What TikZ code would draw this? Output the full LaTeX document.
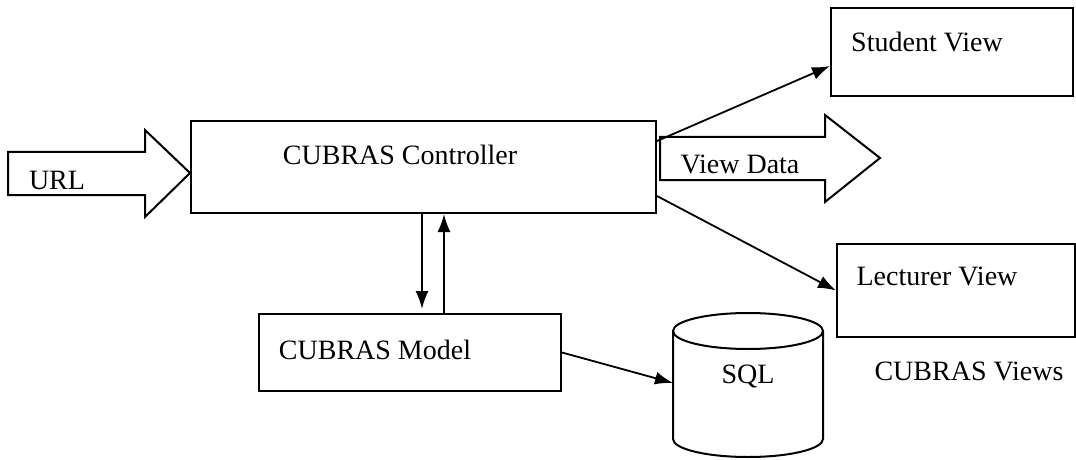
\documentclass[tikz,border=0pt]{standalone}
\usepackage{fontspec}
\setmainfont{Liberation Serif}
\usetikzlibrary{positioning,arrows.meta}

\tikzset{
    box/.style={draw, line width=1pt, rectangle, anchor=north west, inner sep=0pt},
    lbl/.style={font=\fontsize{14}{16}\selectfont, inner sep=1pt},
    link/.style={-{Latex[length=9pt,width=6.5pt]}, line width=0.9pt},
    fatarrow/.style={draw, line width=1pt, line join=miter}
}

\begin{document}
\begin{tikzpicture}[x=0.5pt, y=-0.5pt]
    \useasboundingbox (0,0) rectangle (1076,460);
    % boxes, sizes in pt (one pixel of the page is half a point)
    \node[box, minimum width=232.5pt, minimum height=46pt] (ctrl) at (190,120) {};
    \node[box, minimum width=121pt, minimum height=44pt] (student) at (830,7) {};
    \node[box, minimum width=119pt, minimum height=46.5pt] (lecturer) at (836,243) {};
    \node[box, minimum width=151pt, minimum height=38.5pt] (model) at (258,313) {};
    % block arrows for input and output
    \draw[fatarrow] (8,152) -- (145,152) -- (145,130) -- (190,173) -- (145,217) -- (145,195) -- (8,195) -- cycle;
    \draw[fatarrow] (660,137) -- (825,137) -- (825,115) -- (880,158) -- (825,202) -- (825,180) -- (660,180) -- cycle;
    % database
    \draw[line width=1pt] (748,331) ellipse [x radius=37.5pt, y radius=9pt];
    \draw[line width=1pt] (673,331) -- (673,439) arc[start angle=180, end angle=360, x radius=37.5pt, y radius=9pt] -- (823,331);
    \coordinate (sqlw) at (673,383);
    % texts
    \node[lbl] (ctrltxt) at (400,155) {CUBRAS Controller};
    \node[lbl] (url) at (57,180) {URL};
    \node[lbl] (viewdata) at (740,164) {View Data};
    \node[lbl] (studenttxt) at (927,42) {Student View};
    \node[lbl] (lecturertxt) at (937,276) {Lecturer View};
    \node[lbl] (views) at (969,371) {CUBRAS Views};
    \node[lbl] (modeltxt) at (375,350) {CUBRAS Model};
    \node[lbl] (sql) at (748,376) {SQL};
    % connectors
    \draw[link] ([yshift=13pt]ctrl.east) -- ([yshift=-7pt]student.west);
    \draw[link] ([yshift=-14.5pt]ctrl.east) -- (lecturer.west);
    \draw[link] ([xshift=-0.75pt]ctrl.south) -- ([xshift=-0.75pt,yshift=2pt]ctrl.south |- model.north);
    \draw[link] ([xshift=10.25pt]ctrl.south |- model.north) -- ([xshift=10.25pt]ctrl.south);
    \draw[link] (model.east) -- (sqlw);
\end{tikzpicture}
\end{document}
